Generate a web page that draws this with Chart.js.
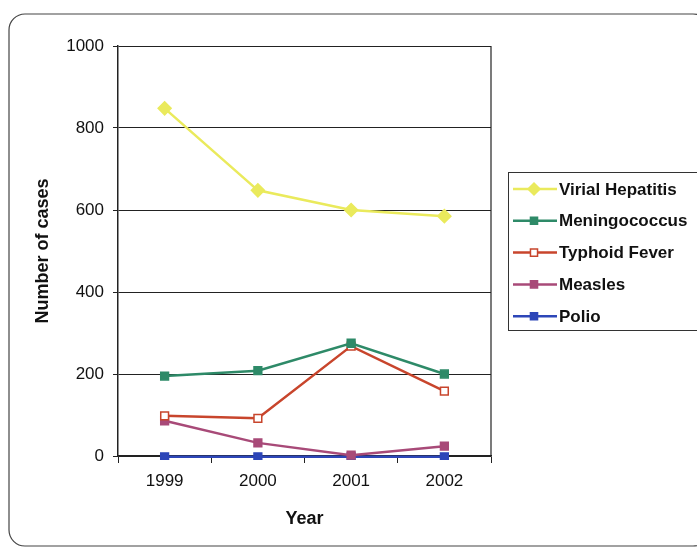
<!DOCTYPE html>
<html lang="en">
<head>
    <meta charset="UTF-8">
    <script src="https://cdn.jsdelivr.net/npm/chart.js"></script>
    <style>
        body { margin: 0; background: #fff; }
        .wrap { width: 697px; height: 548px; position: relative; }
    </style>
</head>
<body>
    <div class="wrap"><canvas id="cases"></canvas></div>
    <script>
        const years = ['1999', '2000', '2001', '2002'];
        const seriesNames = ['Virial Hepatitis', 'Meningococcus', 'Typhoid Fever', 'Measles', 'Polio'];
        const hepatitis = [848, 648, 600, 585];
        const meningococcus = [195, 208, 275, 200];
        const typhoid = [98, 92, 268, 158];
        const measles = [86, 32, 2, 24];
        const polio = [-2, -2, -2, -2];
        const yTicks = [0, 200, 400, 600, 800, 1000];

        const colors = ['#eaea5c', '#2e8a68', '#c8452c', '#a84a78', '#2d46b8'];
        const shapes = ['rectRot', 'rect', 'rect', 'rect', 'rect'];
        const fills = ['#eaea5c', '#2e8a68', '#ffffff', '#a84a78', '#2d46b8'];
        const values = [hepatitis, meningococcus, typhoid, measles, polio];

        const datasets = seriesNames.map((name, i) => ({
            label: name,
            data: values[i],
            borderColor: colors[i],
            backgroundColor: fills[i],
            pointBorderColor: colors[i],
            pointBackgroundColor: fills[i],
            pointStyle: shapes[i],
            pointRadius: i === 0 ? 6.5 : 5.5,
            pointBorderWidth: 1.5,
            borderWidth: 2.5,
            tension: 0,
            clip: 4
        }));

        // rounded frame round the whole chart
        const framePlugin = {
            id: 'frame',
            beforeDraw(chart) {
                const c = chart.ctx;
                c.save();
                c.strokeStyle = '#444';
                c.lineWidth = 1.2;
                c.beginPath();
                c.roundRect(9, 14, 700, 532, 16);
                c.stroke();
                c.restore();
            }
        };

        // box legend with line + marker samples
        const legendPlugin = {
            id: 'boxLegend',
            afterDraw(chart) {
                const c = chart.ctx;
                c.save();
                c.strokeStyle = '#333';
                c.lineWidth = 1;
                c.strokeRect(508.5, 172.5, 200, 158);
                c.font = 'bold 17px "Liberation Sans", Arial, sans-serif';
                c.textBaseline = 'middle';
                chart.data.datasets.forEach((ds, i) => {
                    const y = 189 + i * 31.8;
                    c.strokeStyle = ds.borderColor;
                    c.lineWidth = 2.5;
                    c.beginPath();
                    c.moveTo(513, y);
                    c.lineTo(557, y);
                    c.stroke();
                    c.fillStyle = ds.pointBackgroundColor;
                    c.strokeStyle = ds.pointBorderColor;
                    c.lineWidth = 1.5;
                    Chart.helpers.drawPoint(c, {
                        pointStyle: ds.pointStyle,
                        radius: ds.pointRadius - 0.5,
                        borderWidth: 1.5
                    }, 534, y);
                    c.fillStyle = '#111';
                    c.fillText(ds.label, 559, y + 1);
                });
                c.restore();
            }
        };

        // plot area right edge
        const edgePlugin = {
            id: 'rightEdge',
            beforeDatasetsDraw(chart) {
                const a = chart.chartArea;
                const c = chart.ctx;
                c.save();
                c.strokeStyle = '#222';
                c.lineWidth = 1.2;
                c.beginPath();
                c.moveTo(a.right, a.top);
                c.lineTo(a.right, a.bottom);
                c.stroke();
                c.restore();
            }
        };

        const tickFont = { family: '"Liberation Sans", Arial, sans-serif', size: 17 };
        const titleFont = { family: '"Liberation Sans", Arial, sans-serif', size: 18, weight: 'bold' };

        new Chart(document.getElementById('cases'), {
            type: 'line',
            data: { labels: years, datasets: datasets },
            plugins: [framePlugin, legendPlugin, edgePlugin],
            options: {
                responsive: true,
                maintainAspectRatio: false,
                animation: false,
                layout: { padding: { left: 32, top: 46, right: 206, bottom: 0 } },
                plugins: {
                    legend: { display: false },
                    tooltip: { enabled: false }
                },
                scales: {
                    x: {
                        offset: true,
                        afterFit(scale) { scale.height = 92; },
                        grid: {
                            offset: true,
                            drawOnChartArea: false,
                            drawTicks: true,
                            tickLength: 7,
                            color: '#222',
                            lineWidth: 1
                        },
                        border: { color: '#222', width: 1.5 },
                        ticks: { font: tickFont, color: '#111', padding: 8, maxRotation: 0 },
                        title: {
                            display: true,
                            text: 'Year',
                            font: titleFont,
                            color: '#111',
                            padding: { top: 0, bottom: 18 }
                        }
                    },
                    y: {
                        min: 0,
                        max: 1000,
                        afterFit(scale) { scale.width = 86; },
                        afterBuildTicks(scale) { scale.ticks = yTicks.map(v => ({ value: v })); },
                        grid: {
                            color: '#222',
                            lineWidth: 1,
                            tickLength: 5
                        },
                        border: { color: '#222', width: 1.5 },
                        ticks: {
                            font: tickFont,
                            color: '#111',
                            padding: 9,
                            callback: v => String(v)
                        },
                        title: {
                            display: true,
                            text: 'Number of cases',
                            font: titleFont,
                            color: '#111',
                            padding: { top: 0, bottom: 0 }
                        }
                    }
                }
            }
        });
    </script>
</body>
</html>
